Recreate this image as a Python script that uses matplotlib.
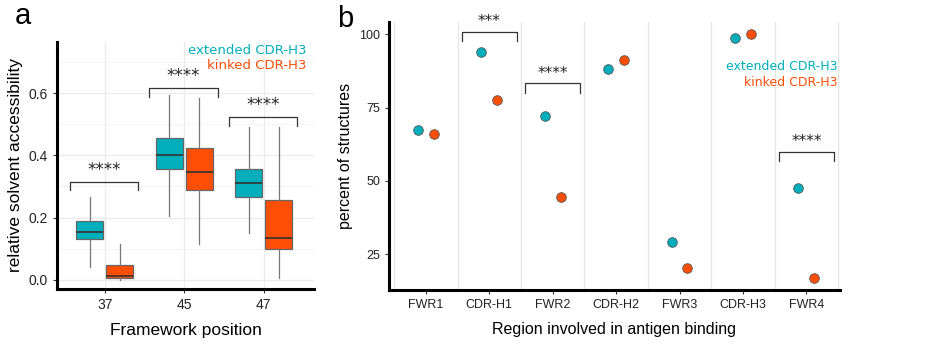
import matplotlib

matplotlib.use("Agg")
import matplotlib.pyplot as plt

TEAL = "#00AFBB"
ORANGE = "#FC4E07"

# -- panel a: box summaries (whislo, q1, med, q3, whishi) ----------------------
positions = ["37", "45", "47"]
extended_box = [
    (0.040, 0.130, 0.155, 0.190, 0.265),
    (0.205, 0.355, 0.400, 0.455, 0.595),
    (0.150, 0.265, 0.310, 0.357, 0.490),
]
kinked_box = [
    (0.000, 0.005, 0.012, 0.048, 0.115),
    (0.115, 0.290, 0.345, 0.425, 0.585),
    (0.005, 0.098, 0.135, 0.255, 0.490),
]
# significance brackets: (bracket height, label)
box_sig = [(0.315, "****"), (0.616, "****"), (0.523, "****")]

# -- panel b: percent of structures -------------------------------------------
regions = ["FWR1", "CDR-H1", "FWR2", "CDR-H2", "FWR3", "CDR-H3", "FWR4"]
extended_pct = [67.5, 94.1, 72.1, 88.3, 29.1, 98.8, 47.7]
kinked_pct = [66.0, 77.7, 44.4, 91.2, 20.4, 100.0, 16.8]
pct_sig = {"CDR-H1": (100.9, "***"), "FWR2": (83.3, "****"), "FWR4": (60.0, "****")}

SANS = ["Liberation Sans", "DejaVu Sans"]
plt.rcParams["font.family"] = SANS

fig = plt.figure(figsize=(9.44, 3.46), dpi=100)


def style_axes(ax):
    for s in ("top", "right"):
        ax.spines[s].set_visible(False)
    for s in ("left", "bottom"):
        ax.spines[s].set_linewidth(2.2)
        ax.spines[s].set_color("black")
    ax.tick_params(length=3, width=0.8, color="#333333", labelcolor="#222222")
    ax.set_axisbelow(True)


def bracket(ax, x0, x1, y, drop, label, star_gap, fs):
    ax.plot([x0, x0, x1, x1], [y - drop, y, y, y - drop], color="#333333",
            lw=0.9, clip_on=False)
    ax.text((x0 + x1) / 2, y + star_gap, label, ha="center", va="center",
            fontsize=fs, family="DejaVu Sans", color="#222222", clip_on=False)


# ---- a ----
ax = fig.add_axes([0.0604, 0.1647, 0.2722, 0.714])
style_axes(ax)
off, bw = 0.19, 0.34
for data, sign, color in ((extended_box, -1, TEAL), (kinked_box, 1, ORANGE)):
    stats = [dict(whislo=d[0], q1=d[1], med=d[2], q3=d[3], whishi=d[4], fliers=[])
             for d in data]
    ax.bxp(stats, positions=[i + sign * off for i in range(len(data))],
           widths=bw, patch_artist=True, showcaps=False,
           boxprops=dict(facecolor=color, edgecolor="#666666", linewidth=0.9),
           medianprops=dict(color="#333333", linewidth=1.2),
           whiskerprops=dict(color="#777777", linewidth=0.9),
           manage_ticks=False)
for i, (h, lab) in enumerate(box_sig):
    bracket(ax, i - 0.44, i + 0.42, h, 0.027, lab, 0.038, 12)
ax.set_xlim(-0.6, 2.63)
ax.set_ylim(-0.03, 0.765)
ax.set_xticks(range(len(positions)))
ax.set_xticklabels(positions, fontsize=10)
ax.set_yticks([0.0, 0.2, 0.4, 0.6])
ax.set_yticklabels(["0.0", "0.2", "0.4", "0.6"], fontsize=10)
ax.set_yticks([0.1, 0.3, 0.5, 0.7], minor=True)
ax.tick_params(which="minor", length=0)
ax.grid(True, which="major", color="#EBEBEB", lw=0.9)
ax.grid(True, which="minor", axis="y", color="#F3F3F3", lw=0.6)
ax.set_xlabel("Framework position", fontsize=12.5, labelpad=8)
ax.set_ylabel("relative solvent accessibility", fontsize=12.5, labelpad=4)
ax.text(0.97, 0.965, "extended CDR-H3", transform=ax.transAxes, ha="right",
        va="center", color=TEAL, fontsize=9.5, family="DejaVu Sans")
ax.text(0.97, 0.905, "kinked CDR-H3", transform=ax.transAxes, ha="right",
        va="center", color=ORANGE, fontsize=9.5, family="DejaVu Sans")
fig.text(0.016, 0.955, "a", fontsize=21, va="center", ha="left")

# ---- b ----
bx = fig.add_axes([0.4121, 0.1618, 0.4777, 0.7746])
style_axes(bx)
xs = list(range(len(regions)))
dx = 0.125
bx.scatter([x - dx for x in xs], extended_pct, s=48, color=TEAL,
           edgecolor="#555555", linewidth=0.6, zorder=3)
bx.scatter([x + dx for x in xs], kinked_pct, s=48, color=ORANGE,
           edgecolor="#555555", linewidth=0.6, zorder=3)
for reg, (h, lab) in pct_sig.items():
    i = regions.index(reg)
    bracket(bx, i - 0.43, i + 0.43, h, 3.2, lab, 3.4, 11)
for g in range(-1, len(regions)):
    bx.axvline(g + 0.5, color="#E5E5E5", lw=0.9, zorder=0)
bx.set_xlim(-0.58, 6.53)
bx.set_ylim(12.8, 104.2)
bx.set_xticks(xs)
bx.set_xticklabels(regions, fontsize=9)
bx.set_yticks([25, 50, 75, 100])
bx.set_yticklabels(["25", "50", "75", "100"], fontsize=9)
bx.set_xlabel("Region involved in antigen binding", fontsize=11.5, labelpad=8)
bx.set_ylabel("percent of structures", fontsize=11.5, labelpad=4)
bx.text(0.995, 0.835, "extended CDR-H3", transform=bx.transAxes, ha="right",
        va="center", color=TEAL, fontsize=9, family="DejaVu Sans")
bx.text(0.995, 0.775, "kinked CDR-H3", transform=bx.transAxes, ha="right",
        va="center", color=ORANGE, fontsize=9, family="DejaVu Sans")
fig.text(0.357, 0.945, "b", fontsize=21, va="center", ha="left")

fig.savefig("out.png", dpi=100)
